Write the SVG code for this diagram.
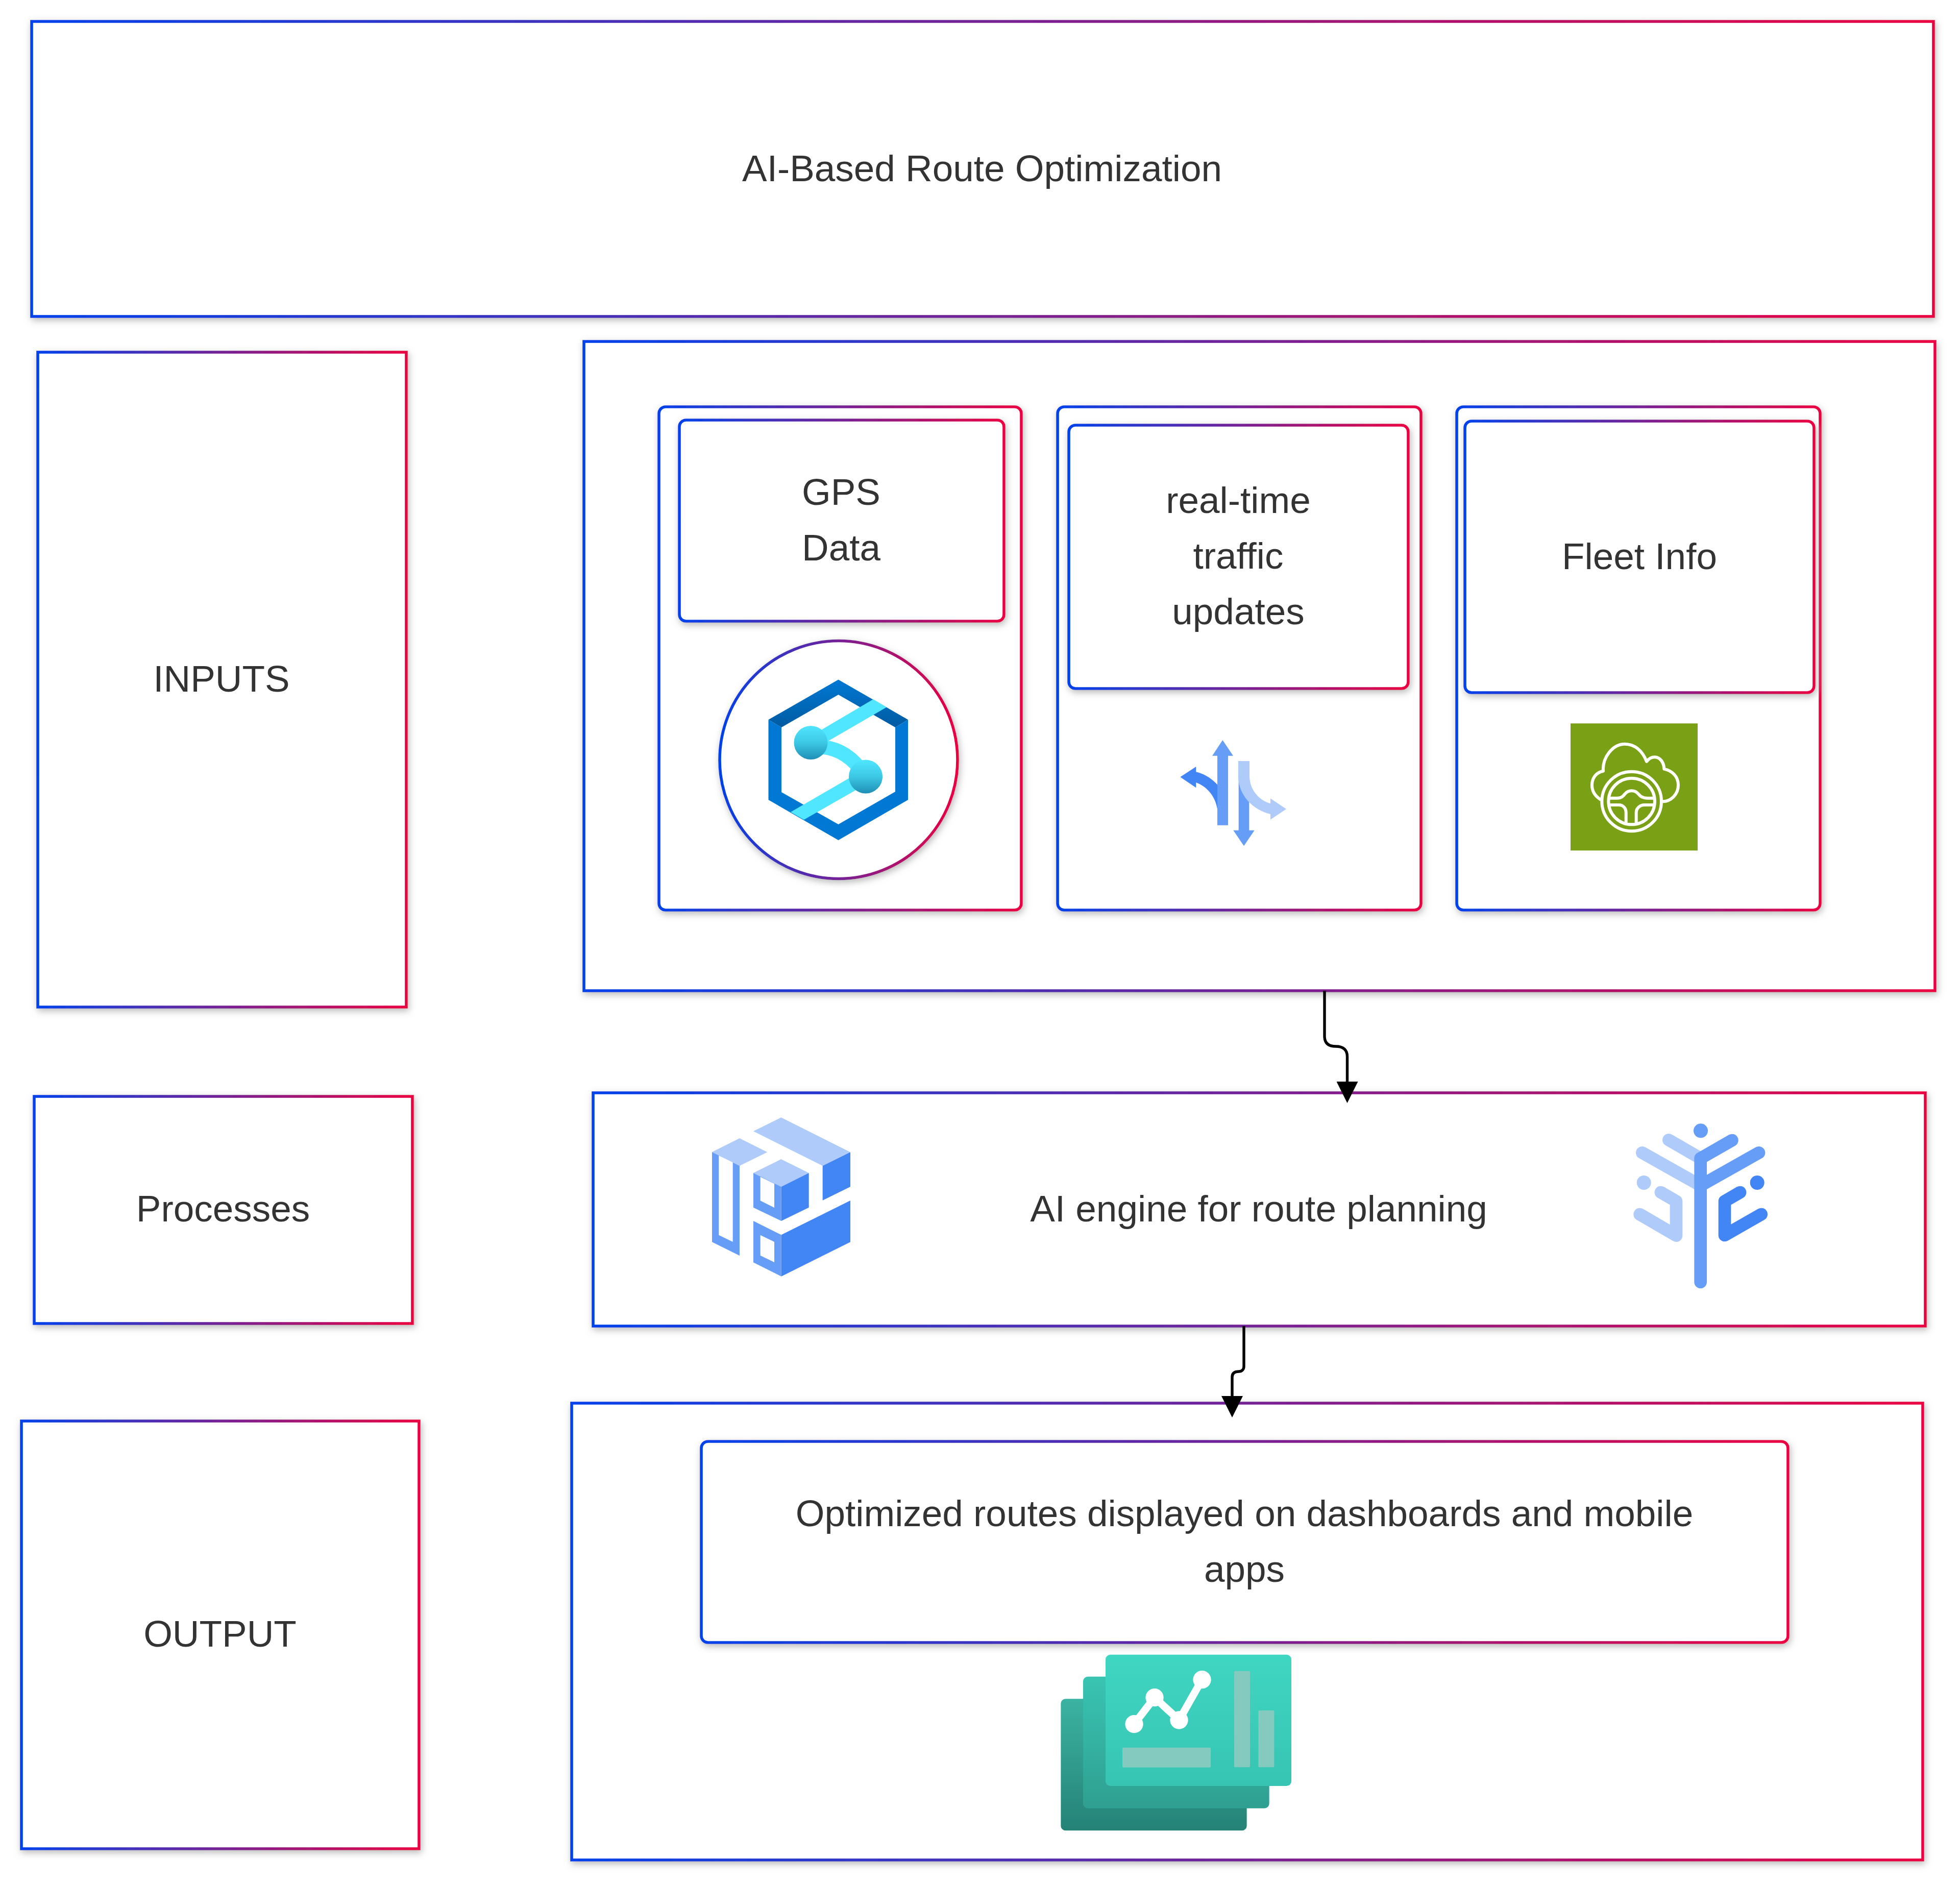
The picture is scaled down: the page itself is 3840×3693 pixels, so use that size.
<svg xmlns="http://www.w3.org/2000/svg" width="3840" height="3693" viewBox="0 0 3840 3693">
<style>
text{font-family:"Liberation Sans",Arial,sans-serif;font-size:72.9px;fill:#333;text-anchor:middle}
.b{fill:#fff;stroke:url(#g);stroke-width:5.6;filter:url(#s)}
.conn{fill:none;stroke:#000;stroke-width:5.4;marker-end:url(#ah)}
.c1{fill:#4285f4}.c2{fill:#669df6}.c3{fill:#aecbfa}
.wh{fill:none;stroke:#fff;stroke-width:18;stroke-linecap:round;stroke-linejoin:round}
</style>
<defs>
<linearGradient id="g" x1="0" y1="0" x2="1" y2="0"><stop offset="0" stop-color="#0042eb"/><stop offset="1" stop-color="#eb0042"/></linearGradient>
<linearGradient id="hexTop" x1="0" y1="0" x2="0" y2="1"><stop offset="0" stop-color="#0078d4"/><stop offset="1" stop-color="#005ba1"/></linearGradient>
<linearGradient id="ball" x1="0" y1="0" x2="0" y2="1"><stop offset="0" stop-color="#50e6ff"/><stop offset=".5" stop-color="#3cc8e4"/><stop offset="1" stop-color="#1f8fb5"/></linearGradient>
<linearGradient id="t1" x1="0" y1="0" x2="0" y2="1"><stop offset="0" stop-color="#3bb3a2"/><stop offset="1" stop-color="#258277"/></linearGradient>
<linearGradient id="t2" x1="0" y1="0" x2="0" y2="1"><stop offset="0" stop-color="#39c4b2"/><stop offset="1" stop-color="#2f9f91"/></linearGradient>
<linearGradient id="t3" x1="0" y1="0" x2="0" y2="1"><stop offset="0" stop-color="#3fd6c2"/><stop offset="1" stop-color="#37c4b3"/></linearGradient>
<filter id="s" x="-5%" y="-5%" width="110%" height="110%"><feDropShadow dx="2.4" dy="4.9" stdDeviation="7" flood-color="#b9b9b9"/></filter>
<marker id="ah" markerUnits="userSpaceOnUse" markerWidth="42" markerHeight="42" viewBox="0 0 42 42" refX="0" refY="21" orient="auto"><path d="M0,0L42,21L0,42z" fill="#000"/></marker>
</defs>
<rect width="3840" height="3693" fill="#fff"/>

<g id="title"><rect class="b" x="62" y="42" width="3726" height="578"/><text x="1924" y="355">AI-Based Route Optimization</text></g>
<g id="inputs-label"><rect class="b" x="74" y="690" width="722" height="1283"/><text x="434" y="1355">INPUTS</text></g>
<g id="inputs"><rect class="b" x="1144" y="669" width="2647" height="1272"/></g>

<g id="gps-card"><rect class="b" x="1291" y="797" width="710" height="986" rx="13"/></g>
<g id="gps-data"><rect class="b" x="1331" y="823" width="636" height="394" rx="13"/><text x="1648" y="989">GPS</text><text x="1648" y="1098">Data</text></g>
<g id="gps-icon">
<circle class="b" cx="1643" cy="1488.500" r="233"/>
<path d="M1505.500,1410L1531,1425V1552L1642.500,1615L1754,1551V1425L1779,1410V1567L1642.500,1646L1505.500,1567z" fill="#0078d4"/>
<path d="M1505.500,1410L1642.500,1331.600L1779,1410L1754,1425L1642.500,1361L1531,1425z" fill="url(#hexTop)"/>
<path d="M1710.800,1370L1737,1385.600L1605,1462L1592,1440zM1680,1515L1694,1538L1575,1606L1549,1591z" fill="#50e6ff"/>
<path d="M1600,1463C1635,1463 1662,1477 1684,1505" fill="none" stroke="#50e6ff" stroke-width="28"/>
<circle cx="1588.500" cy="1455" r="33" fill="url(#ball)"/><circle cx="1696" cy="1521.500" r="33" fill="url(#ball)"/>
</g>

<g id="traffic-card"><rect class="b" x="2072" y="797" width="712" height="986" rx="13"/></g>
<g id="traffic-updates"><rect class="b" x="2094" y="833" width="665" height="516" rx="13"/><text x="2426" y="1005">real-time</text><text x="2426" y="1114">traffic</text><text x="2426" y="1223">updates</text></g>
<g id="traffic-icon">
<path class="c1" d="M2312.300,1522.300L2343.300,1502V1512.300C2360,1516 2375,1526 2386,1538.300V1585H2385C2381,1560 2365,1541 2343.300,1533V1543.300z"/>
<path class="c2" d="M2395.300,1450L2416,1480.700H2406V1616.700H2385V1480.700H2375z"/>
<path class="c2" d="M2426.700,1510H2447.300V1626.700H2457.700L2437,1657.300L2416.300,1626.700H2426.700z"/>
<path class="c3" d="M2426,1491H2448V1520C2448,1546 2465,1567 2489,1574.300V1564.300L2520,1585L2489,1605.700V1595C2453,1586 2426,1557 2426,1520z"/>
</g>

<g id="fleet-card"><rect class="b" x="2854" y="797" width="712" height="986" rx="13"/></g>
<g id="fleet-info"><rect class="b" x="2870" y="825" width="684" height="532" rx="13"/><text x="3212" y="1115">Fleet Info</text></g>
<g id="fleet-icon">
<rect x="3077" y="1417.300" width="249" height="249" fill="#7aa116"/>
<g class="wh" transform="translate(3040 1390) scale(.33333)">
<path d="M285,528C250,505 237,475 237,445C237,400 265,368 303,362C298,280 360,203 430,203C490,203 535,245 558,306C570,290 585,280 605,280C640,280 660,315 661,350C710,360 744,395 744,445C744,500 700,540 653,541"/>
<circle cx="470" cy="540" r="175"/><circle cx="470" cy="540" r="136"/>
<path d="M343,521H385C410,521 420,510 430,497C440,485 455,478 470,478C485,478 500,485 510,497C520,510 535,521 560,521H597"/>
<path d="M343,561H395C420,561 437,580 437,605V665M597,561H545C520,561 497,580 497,605V665"/>
</g>
</g>

<g id="processes-label"><rect class="b" x="67" y="2148" width="741" height="445"/><text x="437" y="2393">Processes</text></g>
<g id="ai-engine"><rect class="b" x="1162" y="2141" width="2610" height="457"/><text x="2466" y="2393">AI engine for route planning</text>
<g transform="translate(1360 2170) scale(.33333)">
<path class="c3" d="M348,139L511,58L918,262L755,342zM105,261L267,180L430,262L267,342zM348,384L511,303L674,384L512,465z"/>
<path class="c1" d="M755,342L918,262V465L755,545zM512,465L674,384V587L512,666zM512,748L918,546V790L512,992z"/>
<path class="c2" fill-rule="evenodd" d="M105,261L267,342V870L105,790zM145,282V749L227,789V322zM348,384L512,465V666L348,587zM389,407V547L471,588V447zM348,666L512,748V992L348,910zM389,749V869L471,909V789z"/>
</g>
<g transform="translate(3180 2190) scale(.33333)" fill="none" stroke-width="74" stroke-linecap="round" stroke-linejoin="round">
<circle cx="122" cy="381" r="42" class="c3"/><circle cx="456" cy="76" r="42" class="c2"/><circle cx="788" cy="381" r="42" class="c1"/>
<path stroke="#aecbfa" d="M268,130L455,238M112,205L455,398M222,438L312,490V692L98,567"/>
<path stroke="#669df6" d="M455,238V965M455,238L640,132M455,398L798,205"/>
<path stroke="#4285f4" d="M687,438L597,490V690L812,567"/>
</g>
</g>

<g id="output-label"><rect class="b" x="42" y="2784" width="779" height="838"/><text x="431" y="3226">OUTPUT</text></g>
<g id="output"><rect class="b" x="1120" y="2749" width="2647" height="895"/></g>
<g id="optimized-routes"><rect class="b" x="1374" y="2824" width="2129" height="394" rx="13"/><text x="2438" y="2990">Optimized routes displayed on dashboards and mobile</text><text x="2438" y="3099">apps</text></g>
<g id="output-icon" transform="translate(2060 3220) scale(.33333)">
<rect x="55" y="325" width="1093" height="774" rx="28" fill="url(#t1)"/>
<rect x="186" y="194" width="1094" height="774" rx="28" fill="url(#t2)"/>
<rect x="318" y="65" width="1092" height="772" rx="28" fill="url(#t3)"/>
<path d="M486,473L606,317L750,450L885,212" fill="none" stroke="#fff" stroke-width="44"/>
<g fill="#fff"><circle cx="486" cy="473" r="53"/><circle cx="606" cy="317" r="53"/><circle cx="750" cy="450" r="53"/><circle cx="885" cy="212" r="53"/></g>
<g fill="#85cabf"><rect x="417" y="611" width="519" height="117" rx="6"/><rect x="1074" y="161" width="93" height="566" rx="6"/><rect x="1216" y="393" width="93" height="334" rx="6"/></g>
</g>

<g id="connectors">
<path class="conn" d="M2595,1941V2030C2595,2043 2602,2050 2617,2050C2632,2050 2639.500,2057 2639.500,2070V2119"/>
<path class="conn" d="M2437,2598V2677C2437,2683 2433,2687 2427,2687C2418,2687 2414,2691 2414,2698V2735"/>
</g>
</svg>
